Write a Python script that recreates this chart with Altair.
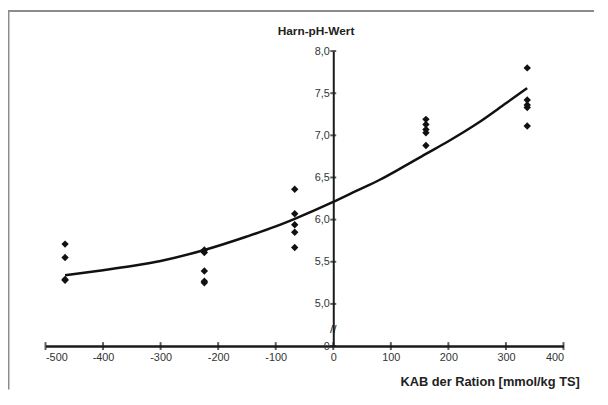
import altair as alt
import pandas as pd

pt_x = [-466]*4 + [-224]*5 + [-67]*5 + [161]*5 + [337]*5
pt_y = [5.71, 5.55, 5.29, 5.28,
        5.64, 5.61, 5.39, 5.27, 5.25,
        6.36, 6.07, 5.94, 5.85, 5.67,
        7.19, 7.13, 7.07, 7.03, 6.88,
        7.80, 7.42, 7.36, 7.33, 7.11]

# Fitted curve
curve_x = [-466, -400, -350, -300, -224, -150, -100, -67, 0, 40, 80, 120, 161, 200, 250, 300, 337]
curve_y = [5.34, 5.40, 5.45, 5.51, 5.64, 5.80, 5.92, 6.01, 6.21, 6.34, 6.47, 6.62, 6.78, 6.93, 7.14, 7.38, 7.56]

x_ticks = [-500, -400, -300, -200, -100, 0, 100, 200, 300, 400]
y_ticks = [4.5, 5.0, 5.5, 6.0, 6.5, 7.0, 7.5, 8.0]

FONT = "Liberation Sans"
AX = "#1a1a1a"

pts = pd.DataFrame({"x": pt_x, "y": pt_y})
crv = pd.DataFrame({"x": curve_x, "y": curve_y})
xt = pd.DataFrame({"x": x_ticks})
yt = pd.DataFrame({"y": y_ticks})
one = pd.DataFrame({"d": [0]})

xscale = alt.Scale(domain=[-500, 400], nice=False, zero=False)
yscale = alt.Scale(domain=[4.5, 8.0], nice=False, zero=False)

xaxis = alt.Axis(values=x_ticks, labelExpr="datum.value + ''", ticks=False, grid=False,
                 domainWidth=2.5, domainColor=AX, labelPadding=6, labelFontSize=11,
                 labelColor="#333333", labelFont=FONT,
                 title="KAB der Ration [mmol/kg TS]", titleFont=FONT, titleFontSize=13,
                 titleFontWeight="bold", titleColor="#222222", titleX=541, titleY=40,
                 titleAlign="right", titleBaseline="alphabetic")
yaxis = alt.Axis(values=y_ticks,
                 labelExpr="datum.value == 4.5 ? '0' : replace(format(datum.value, '.1f'), '.', ',')",
                 offset=-291.67, ticks=False, grid=False, domainWidth=2, domainColor=AX,
                 labelPadding=4, labelFontSize=11, labelColor="#333333", labelFont=FONT,
                 title="Harn-pH-Wert", titleFont=FONT, titleFontSize=12, titleFontWeight="bold",
                 titleColor="#222222", titleAngle=0, titleX=-18, titleY=-17,
                 titleAlign="center", titleBaseline="alphabetic")

X = alt.X("x:Q", scale=xscale, axis=xaxis)
Y = alt.Y("y:Q", scale=yscale, axis=yaxis)

points = alt.Chart(pts).mark_point(shape="diamond", filled=True, size=56, color="#111111", opacity=1).encode(
    x=X, y=Y,
)

curve = alt.Chart(crv).mark_line(color="#111111", strokeWidth=2.5, interpolate="monotone").encode(
    x=X, y=Y,
)

xticks = alt.Chart(xt).mark_tick(orient="vertical", size=8, thickness=2, color=AX).encode(
    x=X,
    y=alt.datum(4.5, scale=yscale, axis=yaxis),
)
yticks = alt.Chart(yt).mark_tick(orient="horizontal", size=6, thickness=2, color=AX).encode(
    x=alt.datum(0, scale=xscale, axis=xaxis),
    y=Y,
)

brk = alt.Chart(one).mark_text(text="//", fontSize=12, angle=0, font=FONT, color="#111111").encode(
    x=alt.datum(0, scale=xscale, axis=xaxis),
    y=alt.datum(4.70, scale=yscale, axis=yaxis),
)

frame_top = alt.Chart(one).mark_rule(color="#8c8c8c", strokeWidth=2).encode(
    x=alt.value(-38), x2=alt.value(556), y=alt.value(-40.5)
)
frame_left = alt.Chart(one).mark_rule(color="#8c8c8c", strokeWidth=2).encode(
    x=alt.value(-37.5), y=alt.value(-41), y2=alt.value(343)
)

chart = alt.layer(frame_top, frame_left, curve, points, xticks, yticks, brk).properties(
    width=525, height=299,
    padding={"left": 38, "top": 41, "right": 37, "bottom": 49},
    autosize=alt.AutoSizeParams(type="none"),
    background="white",
).configure_view(stroke=None)

chart.save("out.html", embed_options={"renderer": "svg", "actions": False})
